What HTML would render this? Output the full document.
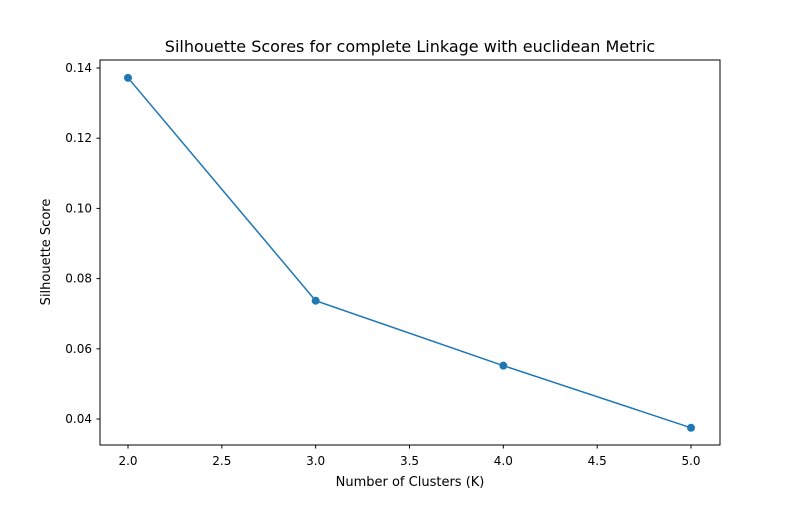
<!DOCTYPE html>
<html><head><meta charset="utf-8"><style>
body{margin:0;background:#fff;}
svg text{font-family:"DejaVu Sans","Liberation Sans",sans-serif;fill:#000;}
</style></head><body>
<svg id="chart" width="800" height="500">
<rect width="800" height="500" fill="#fff"/>
<text x="410" y="52" font-size="16" text-anchor="middle">Silhouette Scores for complete Linkage with euclidean Metric</text>
<g id="xt"></g><g id="yt"></g><g id="plot"></g>
<rect x="100" y="60" width="620" height="385" fill="none" stroke="#000" stroke-width="1"/>
<text x="410" y="486" font-size="13" text-anchor="middle">Number of Clusters (K)</text>
<text transform="translate(50,252) rotate(-90)" font-size="13" text-anchor="middle">Silhouette Score</text>
</svg>
<script>
const ks=[2,3,4,5];
const scores=[0.1372,0.0737,0.0552,0.0375];
const xTicks=[2.0,2.5,3.0,3.5,4.0,4.5,5.0];
const yTicks=[0.04,0.06,0.08,0.10,0.12,0.14];
const NS="http://www.w3.org/2000/svg";
function X(v){return 128+(v-2)*187.67;}
function Y(v){return 68+(0.14-v)*3510;}
function mk(t,a,p){const e=document.createElementNS(NS,t);for(const k in a)e.setAttribute(k,a[k]);p.appendChild(e);return e;}
const xt=document.getElementById('xt'),yt=document.getElementById('yt'),pl=document.getElementById('plot');
xTicks.forEach(v=>{
 const l=mk('line',{x1:X(v),x2:X(v),y1:445,y2:448.5,stroke:'#000'},xt);
 
 
 const t=mk('text',{x:X(v),y:465,'font-size':12,'text-anchor':'middle'},xt);t.textContent=v.toFixed(1);
 
 
});
yTicks.forEach(v=>{
 const l=mk('line',{x1:96.5,x2:100,y1:Y(v),y2:Y(v),stroke:'#000'},yt);
 
 
 const t=mk('text',{x:92,y:Y(v)+4,'font-size':12,'text-anchor':'end'},yt);t.textContent=v.toFixed(2);
 
 
});
const line=mk('polyline',{points:ks.map((k,i)=>X(k)+','+Y(scores[i])).join(' '),fill:'none',stroke:'#1f77b4','stroke-width':1.5},pl);


ks.forEach((k,i)=>{
 const c=mk('circle',{cx:X(k),cy:Y(scores[i]),r:4,fill:'#1f77b4'},pl);
 
 
});
</script>
</body></html>
